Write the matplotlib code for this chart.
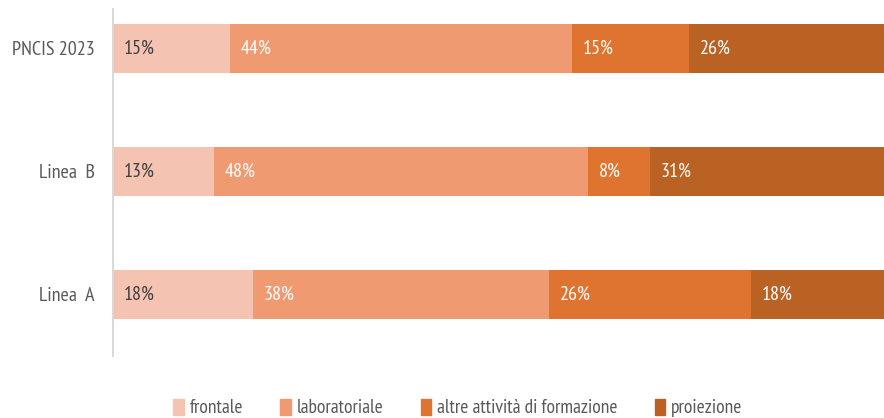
import matplotlib
matplotlib.use('Agg')
import matplotlib.pyplot as plt
from matplotlib.patches import Patch

categories = ['Linea  A', 'Linea  B', 'PNCIS 2023']
series_names = ['frontale', 'laboratoriale', 'altre attività di formazione', 'proiezione']
frontale = [18, 13, 15]
laboratoriale = [38, 48, 44]
altre = [26, 8, 15]
proiezione = [18, 31, 26]
series_values = [frontale, laboratoriale, altre, proiezione]

colors = ['#F4C3B2', '#F09A72', '#DF7431', '#BA6124']
label_colors = ['#404040', 'white', 'white', 'white']

plt.rcParams['font.family'] = ['PT Sans Narrow', 'DejaVu Sans']

fig = plt.figure(figsize=(8.84, 4.18), dpi=100, facecolor='w')
# the bars run a little past the right edge of the picture, as in the original
ax = fig.add_axes([113 / 884, 1 - 356 / 418, 778 / 884, 347 / 418])

ypos = list(range(len(categories)))
left = [0] * len(categories)
for vals, col, tcol in zip(series_values, colors, label_colors):
    ax.barh(ypos, vals, left=left, height=0.4, color=col)
    for y, l, v in zip(ypos, left, vals):
        ax.text(l + 1.4, y, '%d%%' % v, color=tcol, fontsize=14.5, va='center', ha='left')
    left = [a + b for a, b in zip(left, vals)]

ax.set_xlim(0, 100)
ax.set_ylim(-0.5, 2.32)
ax.set_yticks(ypos)
ax.set_yticklabels(categories, fontsize=14.5, color='#595959')
ax.set_xticks([])
ax.tick_params(axis='y', length=0, pad=13)
for s in ['top', 'right', 'bottom']:
    ax.spines[s].set_visible(False)
ax.spines['left'].set_color('#D9D9D9')
ax.spines['left'].set_linewidth(1.5)

handles = [Patch(color=c) for c in colors]
leg = fig.legend(handles, series_names, loc='center', bbox_to_anchor=(458 / 884, 1 - 408 / 418),
                 ncol=4, frameon=False, fontsize=14, handlelength=0.55, handleheight=0.9,
                 handletextpad=0.3, columnspacing=1.9, labelcolor='#595959')

plt.savefig('out.png', dpi=100)
plt.close()
